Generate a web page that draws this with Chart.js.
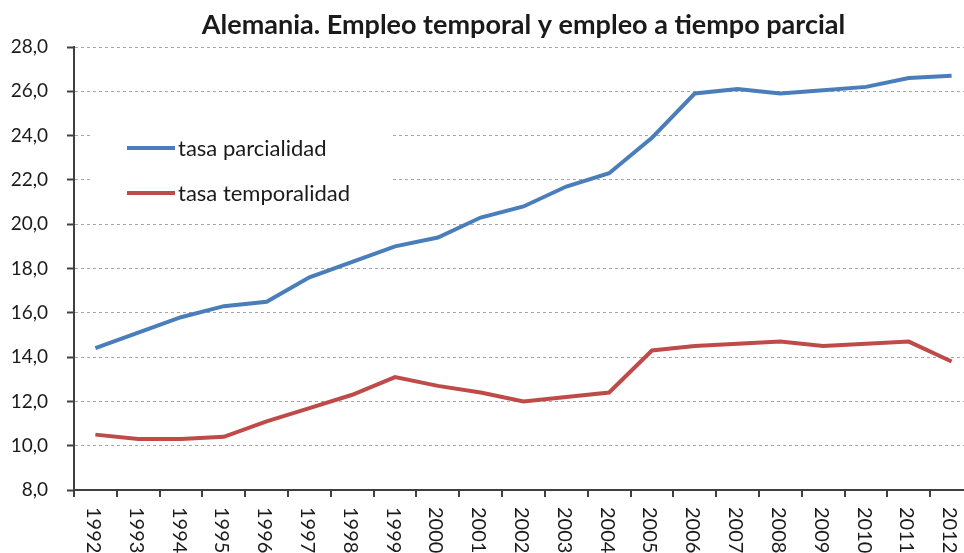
<!DOCTYPE html>
<html>
<head>
<meta charset="utf-8">
<script src="https://cdn.jsdelivr.net/npm/chart.js@4"></script>
<style>
  html, body { margin: 0; padding: 0; background: #fff; overflow: hidden; }
  #wrap { position: relative; width: 1050px; height: 553px; }
</style>
</head>
<body>
<div id="wrap"><canvas id="empleoChart" width="1050" height="553"></canvas></div>
<script>
const years = ['1992', '1993', '1994', '1995', '1996', '1997', '1998', '1999', '2000', '2001', '2002',
    '2003', '2004', '2005', '2006', '2007', '2008', '2009', '2010', '2011', '2012'];
const tasaParcialidad = [14.4, 15.1, 15.8, 16.3, 16.5, 17.6, 18.3, 19.0, 19.4, 20.3, 20.8,
    21.7, 22.3, 23.9, 25.9, 26.1, 25.9, 26.05, 26.2, 26.6, 26.7];
const tasaTemporalidad = [10.5, 10.3, 10.3, 10.4, 11.1, 11.7, 12.3, 13.1, 12.7, 12.4, 12.0,
    12.2, 12.4, 14.3, 14.5, 14.6, 14.7, 14.5, 14.6, 14.7, 13.8];
const yMin = 8;
const yMax = 28;
const yStep = 2;

const axisColor = '#404040';
const textColor = '#1a1a1a';
const fontFamily = 'Lato, "Open Sans", sans-serif';

// legend drawn inside the plot, on a white box that hides the grid lines
const legendInside = {
    id: 'legendInside',
    beforeDatasetsDraw(chart) {
        const ctx = chart.ctx;
        const left = chart.chartArea.left;
        const top = chart.chartArea.top;
        ctx.save();
        ctx.fillStyle = '#fff';
        ctx.fillRect(left + 18, top + 68, 300, 96);
        chart.data.datasets.forEach((ds, i) => {
            const y = top + 101 + i * 45;
            ctx.strokeStyle = ds.borderColor;
            ctx.lineWidth = 4;
            ctx.beginPath();
            ctx.moveTo(left + 53, y);
            ctx.lineTo(left + 101, y);
            ctx.stroke();
            ctx.fillStyle = textColor;
            ctx.font = '22px ' + fontFamily;
            ctx.textBaseline = 'alphabetic';
            ctx.textAlign = 'left';
            ctx.fillText(ds.label, left + 104, y + 8);
        });
        ctx.restore();
    }
};

// year labels turned to read from top to bottom
const verticalYears = {
    id: 'verticalYears',
    afterDraw(chart) {
        const ctx = chart.ctx;
        const xScale = chart.scales.x;
        ctx.save();
        ctx.fillStyle = textColor;
        ctx.font = '20px ' + fontFamily;
        ctx.textAlign = 'left';
        ctx.textBaseline = 'middle';
        chart.data.labels.forEach((label, i) => {
            const x = xScale.getPixelForValue(i) - 2;
            ctx.save();
            ctx.translate(x, chart.chartArea.bottom + 17);
            ctx.rotate(Math.PI / 2);
            ctx.fillText(label, 0, 0);
            ctx.restore();
        });
        ctx.restore();
    }
};

const empleoChart = new Chart(document.getElementById('empleoChart'), {
    type: 'line',
    data: {
        labels: years,
        datasets: [{
            label: 'tasa parcialidad',
            data: tasaParcialidad,
            borderColor: '#4A7EBB',
            borderWidth: 4,
            pointRadius: 0,
            tension: 0,
            fill: false
        }, {
            label: 'tasa temporalidad',
            data: tasaTemporalidad,
            borderColor: '#BE4B48',
            borderWidth: 4,
            pointRadius: 0,
            tension: 0,
            fill: false
        }]
    },
    options: {
        responsive: false,
        animation: false,
        devicePixelRatio: 1,
        layout: { padding: { left: 0, right: 77, top: 0, bottom: 0 } },
        plugins: {
            legend: { display: false },
            tooltip: { enabled: false },
            title: {
                display: true,
                fullSize: false,
                text: 'Alemania. Empleo temporal y empleo a tiempo parcial',
                color: textColor,
                font: { family: fontFamily, size: 27, weight: 'bold' },
                padding: { top: 9, bottom: 5.6 }
            }
        },
        scales: {
            x: {
                type: 'category',
                offset: true,
                grid: {
                    offset: true,
                    drawOnChartArea: false,
                    color: axisColor,
                    tickLength: 7,
                    lineWidth: 2
                },
                border: { color: axisColor, width: 2 },
                ticks: { display: false },
                afterFit(scale) { scale.height = 63; }
            },
            y: {
                min: yMin,
                max: yMax,
                ticks: {
                    stepSize: yStep,
                    color: textColor,
                    padding: 19,
                    font: { family: fontFamily, size: 19 },
                    callback: (v) => v.toFixed(1).replace('.', ',')
                },
                grid: {
                    color: '#a6a6a6',
                    lineWidth: 1,
                    tickColor: axisColor,
                    tickLength: 7,
                    tickWidth: 2,
                    tickBorderDash: []
                },
                border: { color: axisColor, width: 2, dash: [3, 3] },
                afterFit(scale) { scale.width = 74; }
            }
        }
    },
    plugins: [legendInside, verticalYears]
});
</script>
</body>
</html>
